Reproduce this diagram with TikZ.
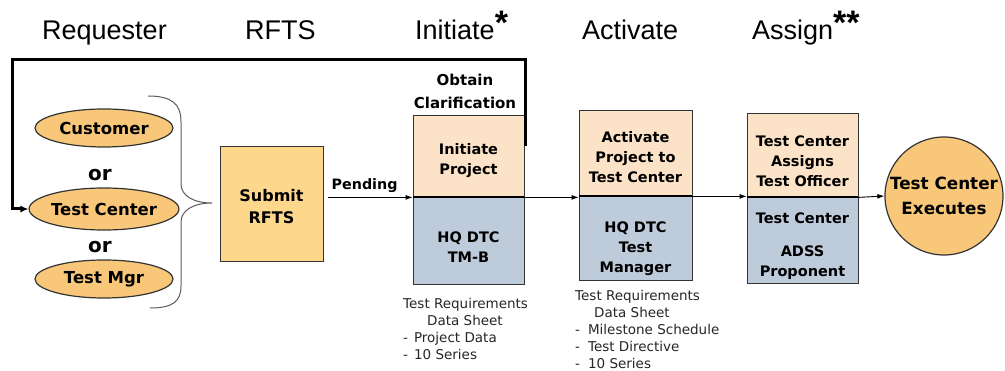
\documentclass[tikz,border=0pt]{standalone}
\usepackage{fontspec}
\setmainfont{Liberation Sans}
\newfontfamily\boxfont{DejaVu Sans}
\usetikzlibrary{shapes.geometric,arrows.meta}
\definecolor{reqorange}{RGB}{249,199,122}
\definecolor{rftsyellow}{RGB}{252,215,140}
\definecolor{peach}{RGB}{252,227,199}
\definecolor{slateblue}{RGB}{190,203,218}
\definecolor{edgegray}{RGB}{51,51,51}
\newcommand{\hdrstar}[1]{\raisebox{5pt}{\fontsize{34}{34}\selectfont\bfseries #1}}

\begin{document}
\begin{tikzpicture}[x=1pt,y=-1pt,
  header/.style={anchor=base west, inner sep=0pt, font=\fontsize{27}{27}\selectfont},
  reqell/.style={draw=edgegray, line width=1.2pt, ellipse, fill=reqorange, minimum width=138pt, minimum height=38pt, inner sep=0pt, font=\boxfont\bfseries\fontsize{16.5}{20}\selectfont},
  ornode/.style={inner sep=0pt, font=\boxfont\bfseries\fontsize{20}{20}\selectfont},
  stepbox/.style={draw=edgegray, line width=0.8pt, minimum width=111pt, inner sep=0pt},
  boxtext/.style={align=center, inner sep=0pt, font=\boxfont\bfseries\fontsize{14.5}{20}\selectfont},
  divider/.style={line width=2pt, black},
  flow/.style={-{Latex[length=7pt,width=5pt]}, line width=0.9pt},
  feedback/.style={-{Latex[length=8pt,width=7pt]}, line width=3pt},
  brace/.style={draw=edgegray!80, line width=1pt},
  note/.style={anchor=north west, align=left, inner sep=0pt, text=black!85, font=\boxfont\fontsize{13.5}{17}\selectfont}]
\useasboundingbox (0,0) rectangle (1005,371);
\node[header] (HdrReq) at (42,40) {Requester};
\node[header] (HdrRfts) at (245,40) {RFTS};
\node[header] (HdrInit) at (415,40) {Initiate\hdrstar{*}};
\node[header] (HdrAct) at (582,40) {Activate};
\node[header] (HdrAsg) at (752,40) {Assign\hdrstar{**}};
\node[reqell] (Cust) at (104,128) {Customer};
\node[ornode] (Or1) at (100,175) {or};
\node[reqell, minimum width=140pt, minimum height=42pt] (TestCtr) at (104,209) {Test Center};
\node[ornode] (Or2) at (100,247) {or};
\node[reqell] (TestMgr) at (104,279) {Test Mgr};
\draw[brace] (148,96) .. controls (172,96) and (181,104) .. (181,122) -- (181,184) .. controls (181,196) and (194,203) .. (212,203) .. controls (194,203) and (181,210) .. (181,222) -- (181,286) .. controls (181,302) and (172,308) .. (150,308);
\node[stepbox, fill=rftsyellow, minimum width=103pt, minimum height=115pt, label={[boxtext, font=\boxfont\bfseries\fontsize{16}{22}\selectfont, yshift=-3pt]center:{Submit\\RFTS}}] (Submit) at (271.5,203.5) {};
\node[stepbox, fill=peach, minimum height=82pt, label={[boxtext, yshift=-5pt]center:{Initiate\\Project}}] (InitTop) at (468.5,156) {};
\node[stepbox, fill=slateblue, minimum height=87pt, anchor=north, label={[boxtext, yshift=-6pt]center:{HQ DTC\\TM-B}}] (InitBot) at (InitTop.south) {};
\node[align=center, inner sep=0pt, font=\boxfont\bfseries\fontsize{15}{23}\selectfont] (Clarify) at (465,91.5) {Obtain\\Clarification};
\node[stepbox, fill=peach, minimum width=113pt, minimum height=86pt, label={[boxtext, yshift=-4pt]center:{Activate\\Project to\\Test Center}}] (ActTop) at (635.5,153) {};
\node[stepbox, fill=slateblue, minimum width=113pt, minimum height=84pt, anchor=north, label={[boxtext, yshift=-10pt]center:{HQ DTC\\Test\\Manager}}] (ActBot) at (ActTop.south) {};
\node[stepbox, fill=peach, minimum height=84pt, label={[boxtext, yshift=-6pt]center:{Test Center\\Assigns\\Test Officer}}] (AsgTop) at (802.5,155) {};
\node[stepbox, fill=slateblue, minimum height=86pt, anchor=north, label={[boxtext, yshift=-5pt]center:{Test Center\\[13pt]ADSS\\Proponent}}] (AsgBot) at (AsgTop.south) {};
\draw[divider] (InitTop.south west) -- (InitTop.south east);
\draw[divider] (ActTop.south west) -- (ActTop.south east);
\draw[divider] (AsgTop.south west) -- (AsgTop.south east);
\node[circle, draw=edgegray, line width=1.2pt, fill=reqorange, minimum size=118pt, inner sep=0pt, align=center, font=\boxfont\bfseries\fontsize{16.8}{25}\selectfont] (Exec) at (944,196) {Test Center\\Executes};
\draw[flow] ([xshift=5pt]Submit.east |- InitTop.south) -- (InitTop.south west) node (Pending) [pos=0.43, above=4pt, inner sep=0pt, font=\boxfont\bfseries\fontsize{14.3}{17}\selectfont] {Pending};
\draw[flow] (InitTop.south east) -- (InitTop.south east -| ActTop.west);
\draw[flow] (ActTop.south east) -- (ActTop.south east -| AsgTop.west);
\draw[flow] (AsgTop.south east) -- (Exec.west);
\coordinate (FbStart) at ([xshift=1.5pt,yshift=-31pt]InitTop.north east);
\coordinate (FbCorner) at (12,60);
\draw[feedback] (FbStart) |- (FbCorner) |- (TestCtr.west);
\node[note] (InitNote) at (403,298) {Test Requirements\\\hspace*{24pt}Data Sheet\\-\hspace{6pt}Project Data\\-\hspace{6pt}10 Series};
\node[note] (ActNote) at (575,290) {Test Requirements\\\hspace*{19pt}Data Sheet\\-\hspace{8pt}Milestone Schedule\\-\hspace{8pt}Test Directive\\-\hspace{8pt}10 Series};
\end{tikzpicture}
\end{document}
